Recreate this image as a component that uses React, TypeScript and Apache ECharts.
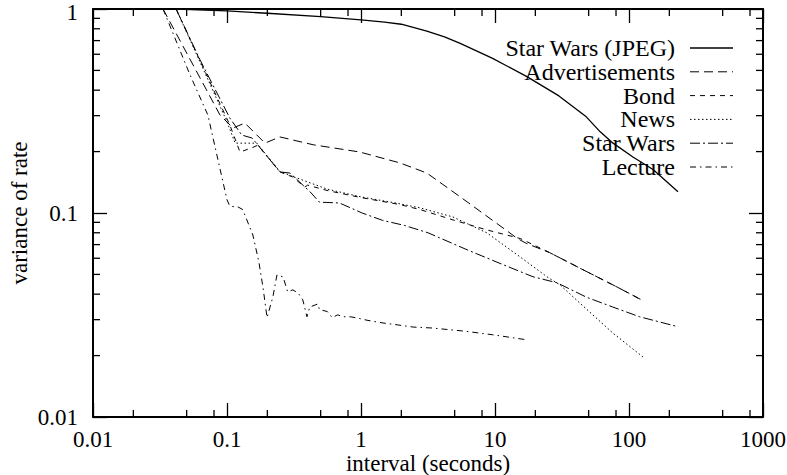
import React, { useEffect, useRef } from "react";
import * as echarts from "echarts";

// ---- data (interval in seconds, normalised variance of rate) ----
const starWarsJpeg: [number, number][] = [
  [0.0417, 1.0], [0.1, 0.978], [0.2, 0.953], [0.5, 0.917], [1, 0.884], [1.5, 0.862],
  [2, 0.842], [3.1, 0.78], [4.2, 0.73], [5.5, 0.679], [9.6, 0.573], [17.3, 0.466],
  [30, 0.375], [48, 0.296], [61, 0.25], [76, 0.22], [107, 0.188], [152, 0.163], [232, 0.127],
];
const advertisements: [number, number][] = [
  [0.0333, 1.0], [0.0887, 0.302], [0.111, 0.261], [0.136, 0.276], [0.192, 0.22],
  [0.248, 0.236], [0.44, 0.216], [0.98, 0.199], [1.95, 0.176], [3.1, 0.157],
  [5.5, 0.12], [9.6, 0.092], [14.7, 0.075], [17.1, 0.071], [25.5, 0.064],
  [45.4, 0.0527], [81.3, 0.0434], [125, 0.0374],
];
const bond: [number, number][] = [
  [0.0417, 1.0], [0.105, 0.27], [0.125, 0.199], [0.154, 0.209], [0.17, 0.215],
  [0.248, 0.159], [0.31, 0.15], [0.38, 0.134], [0.4, 0.137], [0.557, 0.129],
  [1, 0.119], [1.95, 0.11], [2.75, 0.104], [4.86, 0.0925], [8.7, 0.0826],
  [15.4, 0.075], [25.5, 0.064], [45.4, 0.0527], [81.3, 0.0434], [125, 0.0374],
];
const news: [number, number][] = [
  [0.0417, 1.0], [0.1, 0.28], [0.115, 0.22], [0.167, 0.22], [0.248, 0.16],
  [0.31, 0.151], [0.557, 0.131], [1, 0.12], [1.95, 0.111], [2.75, 0.106],
  [4.86, 0.0956], [8.7, 0.0799], [15.4, 0.0609], [24.4, 0.0487], [30.6, 0.0444],
  [48.4, 0.0337], [75.7, 0.0258], [127, 0.0197],
];
const starWars: [number, number][] = [
  [0.0417, 1.0], [0.063, 0.562], [0.105, 0.292], [0.129, 0.241], [0.154, 0.233],
  [0.248, 0.159], [0.295, 0.157], [0.417, 0.127], [0.49, 0.113], [0.69, 0.112],
  [1.02, 0.1], [1.45, 0.092], [2.1, 0.087], [3.16, 0.08], [6.2, 0.066],
  [10.9, 0.0566], [19.2, 0.0487], [29, 0.0455], [48.4, 0.0386], [75.7, 0.0346],
  [120, 0.031], [232, 0.0277],
];
const lecture: [number, number][] = [
  [0.0333, 1.0], [0.053, 0.475], [0.072, 0.302], [0.1, 0.116], [0.105, 0.108],
  [0.121, 0.107], [0.131, 0.104], [0.156, 0.078], [0.173, 0.0575], [0.186, 0.0428],
  [0.199, 0.0307], [0.22, 0.0388], [0.236, 0.0497], [0.262, 0.0486], [0.284, 0.041],
  [0.31, 0.042], [0.34, 0.0405], [0.368, 0.0375], [0.395, 0.031], [0.415, 0.0346],
  [0.476, 0.0358], [0.49, 0.0336], [0.56, 0.0329], [0.61, 0.0307], [0.67, 0.0317],
  [0.73, 0.031], [0.83, 0.031], [0.93, 0.0306], [1.11, 0.0298], [1.46, 0.0289],
  [1.86, 0.0283], [2.45, 0.0276], [3.4, 0.0273], [6.1, 0.0263], [9.6, 0.0253],
  [17.3, 0.0239],
];

const seriesNames = ["Star Wars (JPEG)", "Advertisements", "Bond", "News", "Star Wars", "Lecture"];
const xMinorTicks = [0.02, 0.05, 0.08, 0.2, 0.5, 0.8, 2, 5, 8, 20, 50, 80, 200, 500, 800];
const yMinorTicks = [0.02, 0.03, 0.04, 0.05, 0.06, 0.07, 0.08, 0.09, 0.2, 0.3, 0.4, 0.5, 0.6, 0.7, 0.8, 0.9];

const FONT = "Liberation Serif";
const dashes: (number[] | "solid")[] = ["solid", [9, 5], [5, 5], [1.5, 2.5], [10, 3, 2, 3], [6, 4, 1.5, 4]];
const seriesData = [starWarsJpeg, advertisements, bond, news, starWars, lecture];

const fmt = (v: number) => String(parseFloat(Number(v).toPrecision(6)));

export default function App() {
  const ref = useRef<HTMLDivElement>(null);
  useEffect(() => {
    if (!ref.current) return;
    const chart = echarts.init(ref.current, undefined, { renderer: "svg" });
    const axisCommon = {
      type: "log" as const,
      logBase: 10,
      axisLine: { show: true, lineStyle: { color: "#000", width: 2 } },
      axisTick: { show: true, inside: true, length: 14, lineStyle: { color: "#000", width: 1.3 } },
      splitLine: { show: false },
      minorTick: { show: false },
    };
    const textStyle = { color: "#000", fontSize: 23, fontFamily: FONT };
    const lines = seriesData.map((d, i) => ({
      name: seriesNames[i],
      type: "line" as const,
      data: d,
      symbol: "none",
      showSymbol: false,
      smooth: false,
      lineStyle: { color: "#000", width: i === 0 ? 1.3 : 1, type: dashes[i] as any },
      z: 3,
    }));
    const legendGraphics: any[] = [];
    seriesNames.forEach((n, i) => {
      const y = 48 + i * 23.8;
      legendGraphics.push({
        type: "text",
        x: 675,
        y,
        style: { text: n, fill: "#000", fontSize: 24, fontFamily: FONT, textAlign: "right", textVerticalAlign: "middle" },
        z: 10,
      });
      legendGraphics.push({
        type: "line",
        shape: { x1: 690, y1: y, x2: 733, y2: y },
        style: { stroke: "#000", lineWidth: i === 0 ? 1.3 : 1, lineDash: dashes[i] === "solid" ? null : dashes[i] },
        z: 10,
      });
    });
    chart.setOption({
      animation: false,
      backgroundColor: "#fff",
      grid: { left: 93, right: 24, top: 9, bottom: 58, containLabel: false, outerBoundsMode: "none" } as any,
      xAxis: [
        {
          ...axisCommon,
          min: 0.01,
          max: 1000,
          position: "bottom",
          axisLabel: { ...textStyle, lineHeight: 17, margin: 14, formatter: fmt },
          name: "interval (seconds)",
          nameLocation: "middle",
          nameGap: 38,
          nameMoveOverlap: false,
          nameTextStyle: { ...textStyle, lineHeight: 17 },
        } as any,
        { ...axisCommon, min: 0.01, max: 1000, position: "top", axisLabel: { show: false } },
      ],
      yAxis: [
        {
          ...axisCommon,
          min: 0.01,
          max: 1,
          position: "left",
          axisLabel: {
            ...textStyle,
            margin: 15,
            formatter: (v: number) => (Math.abs(v - 1) < 1e-9 ? "{t|1}" : fmt(v)),
            rich: { t: { ...textStyle, lineHeight: 16, padding: [6, 0, 0, 0] } },
          },
          name: "variance of rate",
          nameLocation: "middle",
          nameGap: 62,
          nameMoveOverlap: false,
          nameTextStyle: textStyle,
        } as any,
        { ...axisCommon, min: 0.01, max: 1, position: "right", axisLabel: { show: false } },
      ],
      series: [
        ...lines,
        {
          type: "custom",
          silent: true,
          clip: false,
          z: 4,
          data: xMinorTicks.map((v) => [v, 0.1]),
          renderItem: (params: any, api: any) => {
            const cs = params.coordSys;
            const px = api.coord([api.value(0), 0.1])[0];
            const b = cs.y + cs.height;
            const t = cs.y;
            return {
              type: "group",
              children: [
                { type: "line", shape: { x1: px, y1: b, x2: px, y2: b - 7 }, style: { stroke: "#000", lineWidth: 1.3 } },
                { type: "line", shape: { x1: px, y1: t, x2: px, y2: t + 7 }, style: { stroke: "#000", lineWidth: 1.3 } },
              ],
            };
          },
        },
        {
          type: "custom",
          silent: true,
          clip: false,
          z: 4,
          data: yMinorTicks.map((v) => [1, v]),
          renderItem: (params: any, api: any) => {
            const cs = params.coordSys;
            const py = api.coord([1, api.value(1)])[1];
            const l = cs.x;
            const r = cs.x + cs.width;
            return {
              type: "group",
              children: [
                { type: "line", shape: { x1: l, y1: py, x2: l + 7, y2: py }, style: { stroke: "#000", lineWidth: 1.3 } },
                { type: "line", shape: { x1: r, y1: py, x2: r - 7, y2: py }, style: { stroke: "#000", lineWidth: 1.3 } },
              ],
            };
          },
        },
      ],
      graphic: legendGraphics,
    });
    return () => chart.dispose();
  }, []);
  return <div ref={ref} style={{ position: "fixed", left: 0, top: 0, width: 787, height: 475, background: "#fff" }} />;
}
